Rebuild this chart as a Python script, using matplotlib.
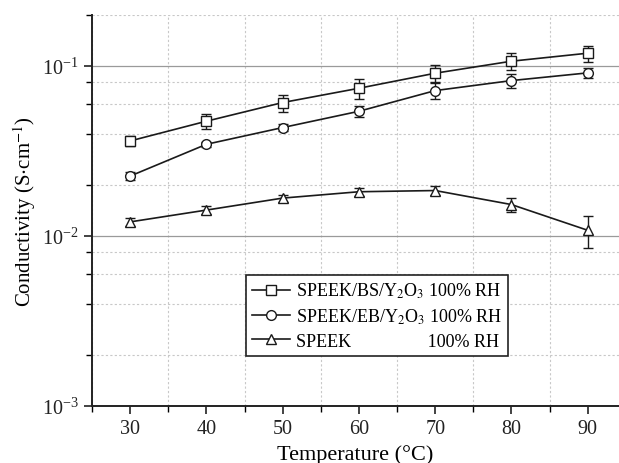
import matplotlib.pyplot as plt
from matplotlib.ticker import LogLocator, MultipleLocator, NullFormatter

plt.rcParams["font.family"] = ["Liberation Serif", "DejaVu Serif"]
plt.rcParams["mathtext.fontset"] = "stix"

# Data
temperature = [30, 40, 50, 60, 70, 80, 90]

bs_y2o3 = [0.0362, 0.0473, 0.0609, 0.0739, 0.0906, 0.1066, 0.1188]
bs_err = [0.0023, 0.0049, 0.0070, 0.0099, 0.0102, 0.0120, 0.0130]

eb_y2o3 = [0.0225, 0.0346, 0.0434, 0.0541, 0.0716, 0.0820, 0.0910]
eb_err = [0.0012, 0.0012, 0.0020, 0.0040, 0.0075, 0.0080, 0.0065]

speek = [0.0121, 0.0142, 0.0167, 0.0182, 0.0185, 0.0153, 0.0108]
speek_err = [0.0006, 0.0008, 0.0008, 0.0010, 0.0012, 0.0014, 0.0023]

labels = [
    r"SPEEK/BS/Y$_2$O$_3$ 100% RH",
    r"SPEEK/EB/Y$_2$O$_3$ 100% RH",
    "SPEEK                 100% RH",
]

fig = plt.figure(figsize=(6.19, 4.64), dpi=100)
ax = fig.add_axes([0.1486, 0.1228, 0.8514, 0.8433])

series = [(bs_y2o3, bs_err, "s"), (eb_y2o3, eb_err, "o"), (speek, speek_err, "^")]
for (vals, err, mk), lab in zip(series, labels):
    ax.errorbar(temperature, vals, yerr=err, marker=mk, color="#1a1a1a",
                markerfacecolor="white", markeredgecolor="#1a1a1a",
                markersize=7, markeredgewidth=1.0, linewidth=1.2,
                capsize=3.5, elinewidth=1.0, capthick=1.0, label=lab, zorder=3)

ax.set_yscale("log")
ax.set_ylim(1e-3, 0.2)
ax.set_xlim(25, 94.1)

ax.xaxis.set_major_locator(MultipleLocator(10))
ax.xaxis.set_minor_locator(MultipleLocator(5))
ax.yaxis.set_major_locator(LogLocator(base=10, numticks=10))
ax.yaxis.set_minor_locator(LogLocator(base=10, subs=[2, 4, 6, 8], numticks=10))
ax.yaxis.set_minor_formatter(NullFormatter())

# grid: solid at decades, dashed elsewhere
ax.grid(axis="y", which="major", color="#9a9a9a", linestyle="-", linewidth=0.9)
ax.grid(axis="y", which="minor", color="#c8c8c8", linestyle=(0, (2, 2)), linewidth=0.8)
ax.grid(axis="x", which="minor", color="#c8c8c8", linestyle=(0, (2, 2)), linewidth=0.8)
ax.grid(axis="x", which="major", visible=False)
ax.set_axisbelow(True)

for side in ["top", "right"]:
    ax.spines[side].set_visible(False)
for side in ["left", "bottom"]:
    ax.spines[side].set_linewidth(1.4)
    ax.spines[side].set_color("#222222")

ax.tick_params(which="major", direction="out", length=6, width=1.2, labelsize=14.5, colors="#222222")
ax.tick_params(which="minor", direction="out", length=4, width=1.0)

ax.set_xlabel("Temperature (°C)", fontsize=16, labelpad=4)
ax.set_ylabel(r"Conductivity (S$\cdot$cm$^{-1}$)", fontsize=15, labelpad=3)

handles, _ = ax.get_legend_handles_labels()
handles = [h[0] for h in handles]
leg = ax.legend(handles, labels, loc="upper left", bbox_to_anchor=(0.292, 0.3355),
                fontsize=13, frameon=True, fancybox=False, edgecolor="#222222",
                framealpha=1, handlelength=2.1, borderpad=0.35, labelspacing=0.35,
                handletextpad=0.3, borderaxespad=0)
leg.get_frame().set_linewidth(1.2)

plt.savefig("out.png", dpi=100)
